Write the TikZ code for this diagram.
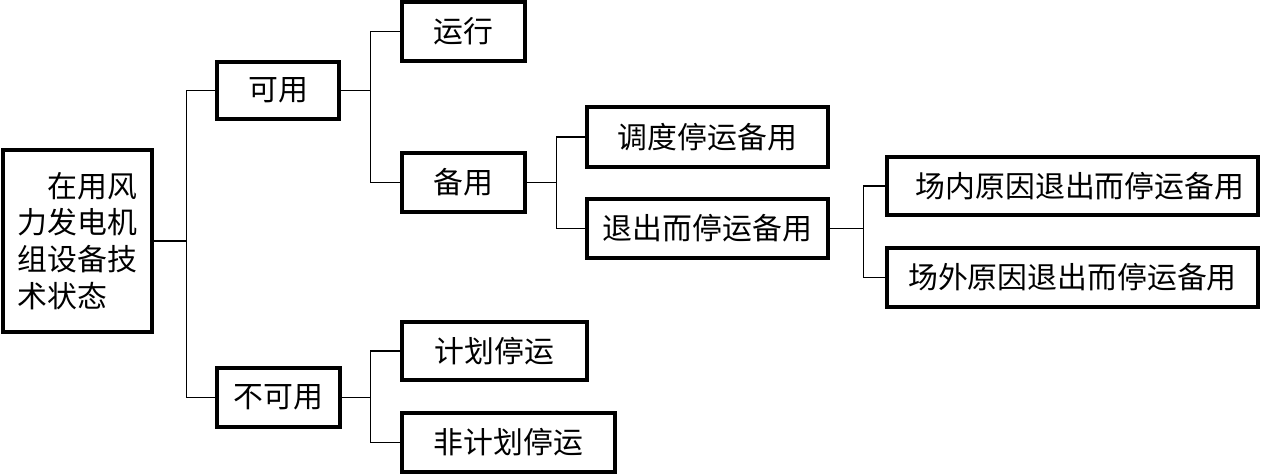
\documentclass[tikz,border=0pt]{standalone}
\usepackage{fontspec}
\setmainfont{Noto Sans CJK SC}
\usepackage{tikz}

\begin{document}
\begin{tikzpicture}[
  x=0.02cm, y=-0.02cm,
  font=\fontsize{17}{21}\selectfont,
  box/.style={draw, line width=2pt, minimum height=1.18cm, inner sep=2pt, align=center},
  conn/.style={line width=0.6pt}]
\useasboundingbox (0,0) rectangle (1263,474);
% boxes
\node[box, minimum width=2.98cm, minimum height=3.64cm, align=left] (root) at (77.5,241)
  {\hspace*{1em}在用风\\力发电机\\组设备技\\术状态};
\node[box, minimum width=2.44cm, minimum height=1.14cm] (keyong) at (278,90.5) {可用};
\node[box, minimum width=2.46cm] (bukeyong) at (278.5,397.5) {不可用};
\node[box, minimum width=2.46cm] (yunxing) at (463.5,31.5) {运行};
\node[box, minimum width=2.46cm] (beiyong) at (463.5,182.5) {备用};
\node[box, minimum width=3.70cm, minimum height=1.16cm] (jihua) at (494.5,351) {计划停运};
\node[box, minimum width=4.26cm] (feijihua) at (508.5,442.5) {非计划停运};
\node[box, minimum width=4.82cm, minimum height=1.2cm] (diaodu) at (707.5,137) {调度停运备用};
\node[box, minimum width=4.82cm] (tuichu) at (707.5,228.5) {退出而停运备用};
\node[box, minimum width=7.42cm, minimum height=1.16cm] (changnei) at (1072.5,186) {\hspace*{0.5em}场内原因退出而停运备用};
\node[box, minimum width=7.42cm] (changwai) at (1072.5,277.5) {场外原因退出而停运备用};
% connectors
\draw[conn] (root.east) -- ++(33,0) coordinate (b0);
\draw[conn] (keyong.west) -| (b0) |- (bukeyong.west);
\draw[conn] (keyong.east) -- ++(30,0) coordinate (b1);
\draw[conn] (yunxing.west) -| (b1) |- (beiyong.west);
\draw[conn] (bukeyong.east) -- ++(29,0) coordinate (b4);
\draw[conn] (jihua.west) -| (b4) |- (feijihua.west);
\draw[conn] (beiyong.east) -- ++(30,0) coordinate (b2);
\draw[conn] (diaodu.west) -| (b2) |- (tuichu.west);
\draw[conn] (tuichu.east) -- ++(34,0) coordinate (b3);
\draw[conn] (changnei.west) -| (b3) |- (changwai.west);
\end{tikzpicture}
\end{document}
